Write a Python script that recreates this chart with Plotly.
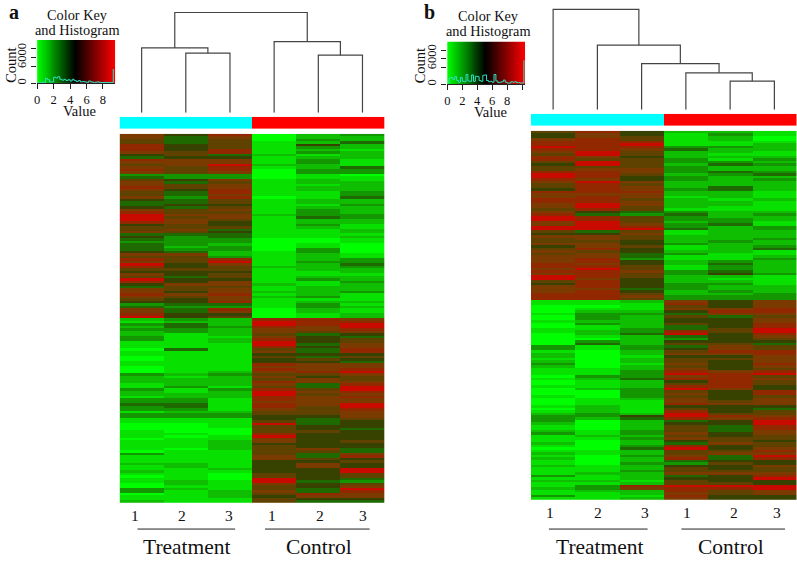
import plotly.graph_objects as go

W, H = 797, 562

# =========================
# Datos
# =========================
SAMPLES = [1, 2, 3, 4, 5, 6]
SAMPLE_LABELS = ["1", "2", "3", "1", "2", "3"]
GROUPS = ["Treatment", "Control"]
GROUP_CODE = [0, 0, 0, 1, 1, 1]

# panel a: filas de arriba abajo (0 verde ... 9 rojo)
a_t1 = [7,7,6,6,8,8,8,7,5,4, 8,7,6,7,8,7,3,4,6,7, 7,8,7,6,6,7,5,4,4,5, 7,8,9,9,9,8,5,6,6,7, 4,5,4,3,4,4,4,5,7,6, 8,7,9,8,6,5,7,6,9,8, 5,4,7,7,8,7,6,5,3,4, 7,7,8,9,
        2,1,3,2,3,2,2,3,3,1, 1,1,0,1,1,0,0,1,1,0, 0,0,3,2,2,2,1,1,3,2, 2,1,3,3,4,3,3,1,3,3, 1,1,0,0,0,1,1,1,0,1, 1,1,1,0,3,1,1,1,2,1, 1,2,1,0,1,1,0,0,3,3, 0,1,1,2]
a_t2 = [5,4,4,4,5,5,5,6,6,5, 7,7,7,6,6,6,3,3,5,4, 6,6,5,4,4,3,4,4,5,4, 6,6,7,6,7,7,6,6,7,6, 4,3,3,3,3,2,3,4,7,6, 6,6,5,5,6,5,5,4,5,5, 7,6,6,5,7,6,5,5,4,3, 4,4,5,5,
        3,2,4,4,3,3,1,1,1,1, 1,1,4,1,1,1,1,1,1,1, 1,1,2,1,2,2,2,3,1,1, 2,2,3,3,4,4,3,2,3,3, 1,1,0,0,0,0,1,0,1,1, 1,1,0,1,1,1,1,1,2,2, 1,1,1,1,1,2,2,1,2,1, 1,1,1,1]
a_t3 = [8,7,6,6,6,6,8,8,4,5, 7,7,9,8,8,7,3,3,7,6, 7,7,8,8,7,8,6,6,5,6, 7,6,7,7,6,5,5,6,4,5, 4,4,3,3,2,3,3,2,2,3, 8,9,7,6,6,5,6,6,5,7, 7,6,7,7,8,7,7,8,4,3, 8,7,5,6,
        2,2,2,3,2,2,2,1,2,2, 1,1,1,1,1,1,1,1,1,1, 1,2,3,2,2,2,2,1,3,2, 2,2,1,1,1,1,1,2,3,3, 1,1,1,1,0,0,0,1,1,2, 2,2,2,1,1,1,1,1,1,1, 2,1,0,0,0,1,1,1,1,2, 2,2,1,1]
a_c1 = [0,0,0,1,1,1,1,1,2,1, 1,1,2,1,0,0,0,0,1,1, 1,1,1,1,1,0,1,1,1,1, 1,1,2,1,1,1,1,1,1,1, 1,1,0,0,0,0,0,1,1,1, 1,1,1,2,1,1,1,1,1,1, 2,1,1,2,1,2,1,1,1,1, 0,0,0,0,
        8,9,9,8,7,7,6,7,8,9, 9,8,6,7,5,6,5,5,8,7, 8,7,6,7,6,8,7,6,8,9, 9,8,8,7,8,8,7,6,6,5, 5,6,9,6,6,6,8,9,7,7, 5,6,6,6,6,7,7,5,5,5, 5,5,6,6,9,9,7,6,6,7, 6,5,6,6]
a_c2 = [2,2,3,2,5,3,2,3,1,2, 3,3,2,2,3,3,1,1,2,2, 1,2,2,1,1,1,2,2,1,2, 3,3,3,4,2,2,3,2,1,1, 1,1,0,0,1,1,3,3,2,2, 2,3,2,2,2,1,1,2,3,1, 1,2,2,2,2,3,1,2,3,3, 2,2,1,1,
        8,8,8,7,7,6,4,5,5,5, 4,5,4,4,5,4,6,5,7,7, 7,8,6,5,7,7,4,4,6,7, 6,7,7,7,7,6,6,6,6,5, 4,4,4,5,5,6,5,5,5,5, 5,5,7,6,4,4,6,5,7,7, 5,5,5,5,5,4,5,5,4,4, 8,7,5,4]
a_c3 = [3,2,2,4,2,2,1,2,2,2, 1,1,1,4,3,3,0,1,1,2, 2,2,2,3,3,4,2,2,3,2, 2,2,3,3,2,2,1,1,2,2, 1,2,1,1,0,0,0,0,1,1, 3,3,4,3,2,2,1,2,2,3, 2,2,2,3,1,1,1,2,1,2, 1,1,2,2,
        7,8,9,9,8,7,5,4,6,6, 7,7,8,8,5,6,5,4,7,7, 8,9,7,6,6,7,8,9,9,8, 7,8,7,7,9,9,8,7,7,7, 6,5,5,5,4,5,5,5,5,6, 5,5,4,4,7,8,5,6,5,5, 9,9,6,6,4,3,6,7,9,8, 7,7,5,4]

# panel b
b_t1 = [6,5,5,7,8,8,9,8,7,6, 8,8,6,5,6,6,8,9,9,8, 7,6,6,5,8,7,7,8,8,7, 7,6,7,8,9,9,7,7,9,9, 6,5,7,6,6,7,5,6,7,6, 7,7,7,8,8,7,8,7,9,9, 6,5,7,7,7,8,8,8,
        1,1,0,0,0,1,0,0,1,0, 0,1,1,0,0,0,0,0,3,3, 1,2,2,1,2,3,2,1,1,1, 0,1,0,0,1,0,0,0,1,0, 0,0,1,0,1,2,3,3,3,2, 1,1,2,3,1,1,1,2,1,0, 1,2,1,2,1,1,2,1,1,1, 3,1,2,1,1,2,1,1,3,1]
b_t2 = [8,7,7,8,8,8,8,8,9,9, 7,6,9,9,6,7,8,8,8,7, 9,8,8,8,8,7,8,8,8,9, 9,8,5,4,8,8,9,9,9,9, 4,5,7,7,6,7,7,8,6,7, 7,8,8,7,8,9,8,8,8,7, 8,8,8,7,8,8,8,8,
        1,1,0,1,2,3,3,3,2,3, 1,1,2,2,1,0,3,4,1,1, 0,0,0,0,0,0,0,1,1,1, 3,2,1,1,1,2,0,0,0,1, 1,1,2,2,2,3,3,2,0,0, 0,0,1,1,2,1,0,0,0,0, 1,1,0,0,0,0,1,1,1,2, 1,1,2,1,3,3,2,1,1,1]
b_t3 = [5,5,6,6,8,9,8,7,6,6, 5,6,6,6,6,7,7,6,5,5, 7,6,7,7,8,7,7,6,7,7, 6,6,4,3,6,6,6,7,8,9, 6,7,6,6,5,5,6,5,5,4, 4,3,5,5,6,6,7,6,6,5, 5,5,5,4,5,6,7,6,
        2,1,1,1,2,3,2,2,2,2, 2,3,3,4,2,2,2,2,3,3, 2,2,1,2,2,1,2,2,3,3, 3,4,2,2,2,3,3,3,3,2, 1,1,1,1,1,2,5,4,2,2, 2,2,3,3,2,3,2,2,3,4, 2,2,3,2,2,3,2,2,3,2, 2,2,1,2,8,7,2,2,1,2]
b_c1 = [2,1,1,1,1,1,3,4,2,2, 2,3,3,2,3,3,3,2,3,3, 2,2,2,3,2,2,1,2,2,2, 2,1,3,4,3,3,2,3,3,4, 1,1,2,2,2,3,1,1,2,3, 1,1,2,2,1,1,3,3,2,2, 2,3,3,3,2,2,3,3,
        7,8,6,7,5,4,6,5,5,6, 4,4,8,9,4,3,5,6,4,5, 6,7,5,6,6,7,6,7,8,9, 7,8,5,6,8,9,6,7,6,7, 7,8,5,6,8,9,9,8,4,5, 6,6,6,7,6,7,5,4,8,9, 6,6,7,8,4,3,5,6,6,7, 4,5,6,6,9,8,8,7,8,7]
b_c2 = [2,3,2,2,1,1,3,2,2,1, 2,1,3,4,2,2,4,3,2,2, 2,2,4,4,2,2,2,1,2,2, 1,1,2,2,2,3,3,4,2,2, 2,2,2,2,3,2,2,2,2,1, 1,1,3,4,3,3,4,5,2,1, 2,3,2,2,3,2,3,3,
        5,5,5,7,8,7,4,5,5,5, 5,6,6,5,5,5,5,6,7,7, 8,7,5,6,5,5,5,5,7,8, 8,8,8,8,8,7,5,5,5,5, 6,7,5,5,5,6,8,7,5,5, 4,4,4,5,5,6,6,7,5,5, 6,7,4,4,5,6,5,5,6,7, 5,5,5,6,9,8,6,6,5,5]
b_c3 = [1,1,0,0,1,2,2,2,1,1, 2,3,2,3,2,2,3,4,2,3, 2,2,2,2,1,1,1,2,1,1, 1,1,2,3,2,2,1,1,3,3, 2,2,2,3,2,2,3,4,1,1, 2,3,2,2,2,2,2,3,1,1, 1,1,2,2,2,3,3,3,
        7,7,7,8,8,7,6,7,7,8, 8,9,9,8,7,6,5,4,6,6, 8,8,7,7,7,8,7,6,8,9, 6,7,6,6,5,5,8,8,6,7, 7,7,5,4,6,6,7,8,9,9, 8,8,7,7,6,6,5,6,6,7, 8,7,9,8,5,5,7,6,6,7, 8,9,5,5,9,9,7,7,5,5]

# dendrogramas: hijos de cada unión (positivo = muestra, negativo = unión previa)
a_merges = [(2, 3), (1, -1), (5, 6), (4, -3), (-2, -4)]
a_heights = [59.7, 65, 57.7, 71.3, 100.5]
b_merges = [(5, 6), (4, -1), (3, -2), (2, -3), (1, -4)]
b_heights = [28.7, 37, 46.3, 64.7, 100.7]

# histogramas de la clave de color
a_hist = [50,50,100,200,1100,800,300,300,1400,1200,1500,900,700,900,600,800,500,900,600,400,
          600,300,400,300,200,500,300,200,200,300,200,150,150,200,150,150,150,3300]
b_hist = [300,1500,1600,1100,1800,900,500,1600,700,600,2300,800,700,2200,700,1900,1800,900,700,2100,
          2200,900,600,700,500,2300,800,400,500,600,1000,500,300,300,600,500,600,400,400,300,300,5600]
BIN_WIDTH = 0.25

COUNT_TICKS = [0, 4000, 6000, 8000]
COUNT_LABELS = ["0", "", "6000", ""]

SERIF = "Liberation Serif"
HEAT_SCALE = [
    [0.0, "rgb(0,255,0)"], [0.111, "rgb(8,225,0)"], [0.222, "rgb(15,190,0)"],
    [0.333, "rgb(20,150,0)"], [0.444, "rgb(30,105,0)"], [0.556, "rgb(55,65,0)"],
    [0.667, "rgb(95,65,0)"], [0.778, "rgb(122,58,0)"], [0.889, "rgb(145,40,0)"],
    [1.0, "rgb(200,10,0)"],
]
KEY_SCALE = [[0, "rgb(0,255,0)"], [0.49, "rgb(0,0,0)"], [1, "rgb(255,0,0)"]]


def xd(left, right):
    return [left / W, right / W]


def yd(top, bottom):
    return [1 - bottom / H, 1 - top / H]


def texto(x, y, s, size, bold=False, angle=0):
    return dict(
        x=x / W, y=1 - y / H, xref="paper", yref="paper", text=f"<b>{s}</b>" if bold else s,
        showarrow=False, xanchor="center", yanchor="middle", textangle=angle,
        font=dict(family=SERIF, size=size, color="#111"),
    )


def dendro_xy(merges, heights):
    xs, ys = [], []
    nodos = []
    for (izq, der), h in zip(merges, heights):
        puntos = []
        for hijo in (izq, der):
            if hijo > 0:
                puntos.append((float(hijo), 0))
            else:
                puntos.append(nodos[-hijo - 1])
        xs += [puntos[0][0], puntos[0][0], puntos[1][0], puntos[1][0], None]
        ys += [puntos[0][1], h, h, puntos[1][1], None]
        nodos.append(((puntos[0][0] + puntos[1][0]) / 2, h))
    return xs, ys


fig = go.Figure()
layout = dict(
    width=W, height=H, margin=dict(l=0, r=0, t=0, b=0), paper_bgcolor="white", plot_bgcolor="white",
    showlegend=False,
)


def add_panel(n, cols, merges, heights, hist, px_):
    xh, xk = f"x{2 * n - 1}", f"x{2 * n}"
    base = (n - 1) * 5
    y_heat, y_bar, y_den, y_kgrad, y_kcount = [f"y{base + i}" for i in range(1, 6)]
    filas = [list(f) for f in zip(*cols)]

    fig.add_trace(go.Heatmap(z=filas, x=SAMPLES, y=list(range(len(filas))), xaxis=xh, yaxis=y_heat,
                             colorscale=HEAT_SCALE, zmin=0, zmax=9, showscale=False))
    fig.add_trace(go.Heatmap(z=[GROUP_CODE], x=SAMPLES, y=[0], xaxis=xh, yaxis=y_bar,
                             colorscale=[[0, "#00ffff"], [1, "#ff0000"]], zmin=0, zmax=1, showscale=False))
    dx, dy = dendro_xy(merges, heights)
    fig.add_trace(go.Scatter(x=dx, y=dy, xaxis=xh, yaxis=y_den, mode="lines",
                             line=dict(color="#444", width=1.2)))

    key_max = px_["key_max"]
    pasos = [i * key_max / 79 for i in range(80)]
    fig.add_trace(go.Heatmap(z=[pasos], x=pasos, y=[0], xaxis=xk, yaxis=y_kgrad,
                             colorscale=KEY_SCALE, zmin=0, zmax=key_max, showscale=False))
    bins = [i * BIN_WIDTH for i in range(len(hist))]
    fig.add_trace(go.Scatter(x=bins, y=hist, xaxis=xk, yaxis=y_kcount, mode="lines",
                             line=dict(color="#30e0c0", width=1, shape="hv")))

    def nombre(ax):
        return ax[0] + "axis" + ax[1:]

    oculto = dict(visible=False, fixedrange=True)
    layout[nombre(xh)] = dict(oculto, domain=xd(px_["left"], px_["right"]), range=[0.5, 6.5], anchor=y_heat)
    layout[nombre(y_heat)] = dict(oculto, domain=yd(px_["heat_top"], px_["heat_bot"]),
                                  range=[len(filas) - 0.5, -0.5], anchor=xh)
    layout[nombre(y_bar)] = dict(oculto, domain=yd(px_["bar_top"], px_["bar_bot"]), range=[-0.5, 0.5], anchor=xh)
    layout[nombre(y_den)] = dict(oculto, domain=yd(0, px_["den_bot"]), range=[0, px_["den_bot"]], anchor=xh)

    tick_font = dict(family=SERIF, size=12.5, color="#111")
    layout[nombre(xk)] = dict(domain=xd(px_["key_left"], px_["key_right"]), range=[0, key_max], anchor=y_kcount,
                              tickmode="array", tickvals=px_["key_ticks"], ticktext=px_["key_labels"],
                              ticks="outside", ticklen=5, tickwidth=1, tickcolor="#222",
                              showgrid=False, zeroline=False, showline=True, linecolor="#222", linewidth=1,
                              tickfont=tick_font, fixedrange=True)
    layout[nombre(y_kgrad)] = dict(oculto, domain=yd(px_["key_top"], px_["key_bot"]), range=[-0.5, 0.5], anchor=xk)
    layout[nombre(y_kcount)] = dict(domain=yd(px_["key_top"], px_["key_bot"]), range=[0, px_["count_max"]],
                                    anchor=xk, overlaying=y_kgrad, tickmode="array", tickvals=COUNT_TICKS,
                                    ticktext=COUNT_LABELS, tickangle=-90, ticks="outside", ticklen=5, tickwidth=1,
                                    tickcolor="#222", showgrid=False, zeroline=False, showline=False,
                                    tickfont=tick_font, fixedrange=True)


add_panel(1, [a_t1, a_t2, a_t3, a_c1, a_c2, a_c3], a_merges, a_heights, a_hist, dict(
    left=117, right=383, heat_top=134, heat_bot=504, bar_top=117, bar_bot=129, den_bot=113,
    key_left=34.3, key_right=112.5, key_top=40, key_bot=83.3, key_max=9.47, count_max=10100,
    key_ticks=[0, 2, 4, 6, 8], key_labels=["0", "2", "4", "6", "8"]))
add_panel(2, [b_t1, b_t2, b_t3, b_c1, b_c2, b_c3], b_merges, b_heights, b_hist, dict(
    left=530, right=796.5, heat_top=131, heat_bot=501, bar_top=114, bar_bot=126, den_bot=110,
    key_left=446, key_right=524, key_top=41.6, key_bot=84.5, key_max=10.4, count_max=10000,
    key_ticks=[0, 2, 4, 6, 8, 10], key_labels=["0", "2", "4", "6", "8", ""]))

anotaciones = [
    texto(11, 12, "a", 20, bold=True), texto(428, 12, "b", 20, bold=True),
    texto(75, 15, "Color Key", 14.3), texto(75, 30, "and Histogram", 14.3),
    texto(487, 16, "Color Key", 14.3), texto(487, 31, "and Histogram", 14.3),
    texto(77, 111, "Value", 14.5), texto(489, 112, "Value", 14.5),
    texto(8, 65, "Count", 14.5, angle=-90), texto(418, 66, "Count", 14.5, angle=-90),
]
for x, s in zip([132, 180, 227, 270, 318, 361], SAMPLE_LABELS):
    anotaciones.append(texto(x, 516, s, 15.5))
for x, s in zip([549, 597, 644, 687, 734, 777], SAMPLE_LABELS):
    anotaciones.append(texto(x, 513, s, 15.5))
for x, s in zip([185, 317, 599, 731], GROUPS * 2):
    anotaciones.append(texto(x, 548, s, 21.5))

lineas = [
    dict(type="line", xref="paper", yref="paper", x0=x0 / W, x1=x1 / W, y0=1 - 530 / H, y1=1 - 530 / H,
         line=dict(color="#222", width=1))
    for x0, x1 in [(135, 233), (263, 368), (548, 647), (681, 785)]
]

fig.update_layout(**layout, annotations=anotaciones, shapes=lineas)
fig.write_html("out.html", config={"displayModeBar": False}, post_script="document.body.style.margin='0';")
